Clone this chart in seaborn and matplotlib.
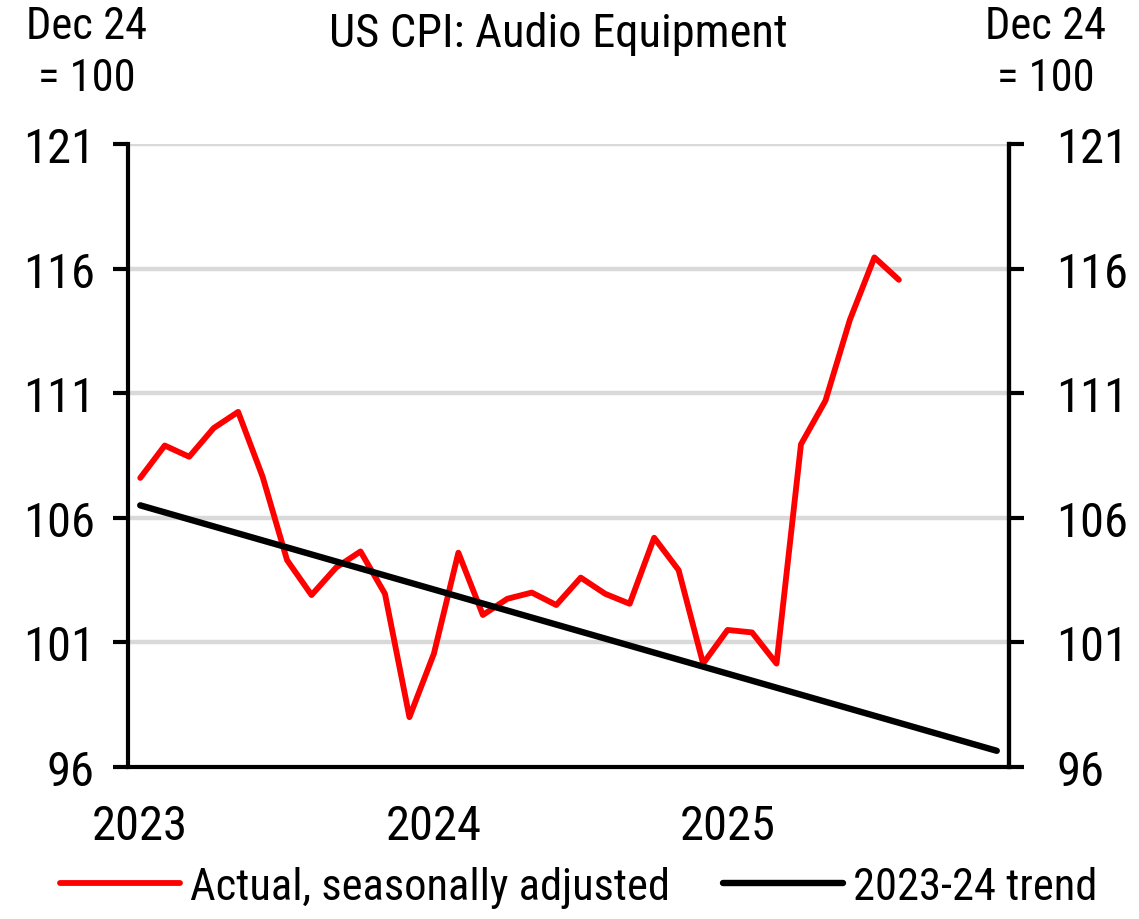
import numpy as np
import pandas as pd
import matplotlib
matplotlib.use("Agg")
import matplotlib.pyplot as plt
import seaborn as sns

# monthly CPI audio equipment, Dec 24 = 100
months = pd.date_range("2023-01-01", "2025-08-01", freq="MS")
actual = [107.6, 108.9, 108.45, 109.6, 110.25, 107.65, 104.3, 102.9, 104.0, 104.65, 102.95, 98.0,
          100.55, 104.6, 102.1, 102.75, 103.0, 102.5, 103.6, 102.95, 102.55, 105.2, 103.9, 100.15,
          101.5, 101.4, 100.15, 108.95, 110.7, 113.95, 116.45, 115.55]

# 2023-24 trend, start and end points
trend_dates = pd.to_datetime(["2023-01-01", "2025-12-01"])
trend_vals = [106.5, 96.65]

year_labels = ["2023", "2024", "2025"]
y_ticks = [96, 101, 106, 111, 116, 121]

sns.set_style("white")
plt.rcParams["font.family"] = ["Roboto Condensed", "Liberation Sans", "DejaVu Sans"]
plt.rcParams["text.color"] = "black"
plt.rcParams["xtick.color"] = "black"
plt.rcParams["ytick.color"] = "black"


def month_pos(dates):
    # category axis: each month sits in the middle of its slot
    d = pd.DatetimeIndex(dates)
    return (d.year - 2023) * 12 + d.month - 1 + 0.5


df = pd.DataFrame({"x": month_pos(months), "y": actual})
tr = pd.DataFrame({"x": month_pos(trend_dates), "y": trend_vals})

fig = plt.figure(figsize=(11.39, 9.2), dpi=100)
ax = fig.add_axes([128 / 1139, 1 - 768 / 920, (1009 - 128) / 1139, (768 - 145) / 920])

sns.lineplot(data=df, x="x", y="y", ax=ax, color="#ff0000", lw=4.2,
             label="Actual, seasonally adjusted", solid_capstyle="round", solid_joinstyle="round")
sns.lineplot(data=tr, x="x", y="y", ax=ax, color="black", lw=4.6,
             label="2023-24 trend", solid_capstyle="round")

ax.set_xlim(0, 36)
ax.set_ylim(96, 121)
ax.set_yticks(y_ticks)
for v in y_ticks[1:]:
    ax.axhline(v, color="#d9d9d9", lw=3.2, zorder=0)

ax.set_xticks([0, 12, 24, 36])
ax.set_xticklabels([])
ax.set_xticks([0.5, 12.5, 24.5], minor=True)
ax.set_xticklabels(year_labels, minor=True)
ax.tick_params(axis="x", which="major", direction="out", length=11, width=3, color="black")
ax.tick_params(axis="x", which="minor", length=0, pad=26, labelsize=35)
ax.tick_params(axis="y", direction="out", length=11, width=3, color="black", pad=13, labelsize=35,
               left=True)
ax.set_xlabel("")
ax.set_ylabel("")

for s in ["left", "right", "bottom"]:
    ax.spines[s].set_linewidth(3)
    ax.spines[s].set_color("black")
ax.spines["top"].set_visible(False)

ax2 = ax.twinx()
ax2.set_ylim(96, 121)
ax2.set_yticks(y_ticks)
ax2.tick_params(axis="y", direction="out", length=11, width=3, color="black", pad=23, labelsize=35)
for s in ["left", "top", "bottom"]:
    ax2.spines[s].set_visible(False)
ax2.spines["right"].set_linewidth(3)
ax2.spines["right"].set_color("black")

ax.get_legend().remove()
h, l = ax.get_legend_handles_labels()
fig.legend(h, l, loc="center", bbox_to_anchor=(0.508, 1 - 888 / 920), ncol=2, frameon=False,
           fontsize=32, handlelength=2.7, handletextpad=0.22, columnspacing=1.2)

fig.text(87 / 1139, 1 - 6 / 920, "Dec 24\n= 100", ha="center", va="top", fontsize=32, linespacing=1.3)
fig.text(1046 / 1139, 1 - 6 / 920, "Dec 24\n= 100", ha="center", va="top", fontsize=32, linespacing=1.3)
fig.text(558 / 1139, 1 - 12 / 920, "US CPI: Audio Equipment", ha="center", va="top", fontsize=33.5)

fig.savefig("out.png", dpi=100)
